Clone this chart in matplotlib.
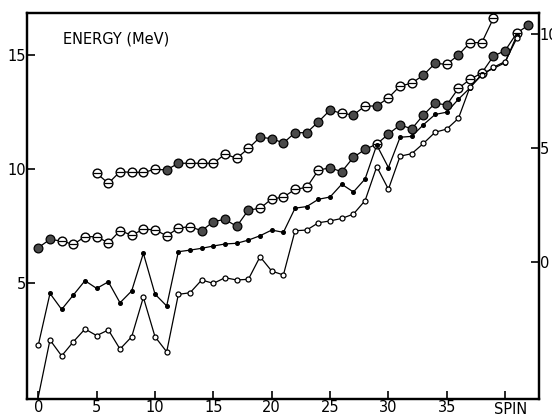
import numpy as np
import matplotlib
matplotlib.use("Agg")
import matplotlib.pyplot as plt

# band 1 (top), spins 5..39
spin_a = list(range(5, 40))
e_a = [9.80, 9.36, 9.87, 9.84, 9.84, 9.97, 9.95, 10.24, 10.24, 10.24, 10.24, 10.64, 10.46, 10.89,
       11.38, 11.32, 11.13, 11.58, 11.58, 12.06, 12.57, 12.43, 12.36, 12.75, 12.75, 13.11, 13.63,
       13.75, 14.11, 14.62, 14.58, 14.99, 15.53, 15.53, 16.6]
filled_a = [11, 12, 19, 20, 21, 22, 23, 24, 25, 27, 29, 33, 34, 36]

# band 2, spins 0..42
spin_b = list(range(0, 43))
e_b = [6.54, 6.90, 6.83, 6.68, 7.02, 7.02, 6.75, 7.28, 7.09, 7.34, 7.33, 7.05, 7.40, 7.46, 7.28,
       7.68, 7.78, 7.47, 8.19, 8.26, 8.68, 8.75, 9.10, 9.18, 9.94, 10.04, 9.87, 10.50, 10.85, 11.08,
       11.52, 11.92, 11.75, 12.36, 12.87, 12.80, 13.53, 13.92, 14.20, 14.94, 15.18, 15.95, 16.30]
filled_b = [0, 1, 14, 15, 16, 17, 18, 25, 26, 27, 28, 30, 31, 32, 33, 34, 35, 39, 40, 42]

# small dots, spins 0..41
spin_c = list(range(0, 42))
e_c = [2.27, 4.53, 3.83, 4.46, 5.09, 4.75, 5.04, 4.12, 4.64, 6.29, 4.50, 3.98, 6.36, 6.43, 6.51,
       6.61, 6.70, 6.73, 6.87, 7.06, 7.31, 7.21, 8.27, 8.34, 8.66, 8.76, 9.32, 8.98, 9.55, 11.04,
       10.05, 11.38, 11.42, 11.93, 12.38, 12.48, 13.05, 13.55, 14.15, 14.40, 14.65, 15.85]

# small open circles, spins 0..41
spin_d = list(range(0, 42))
e_d = [0.0, 2.49, 1.79, 2.41, 2.97, 2.68, 2.93, 2.09, 2.63, 4.36, 2.63, 1.97, 4.49, 4.56, 5.12,
       4.97, 5.22, 5.12, 5.15, 6.14, 5.51, 5.34, 7.28, 7.31, 7.63, 7.71, 7.82, 8.01, 8.60, 10.09,
       9.10, 10.55, 10.66, 11.11, 11.60, 11.74, 12.21, 13.60, 14.10, 14.45, 14.70, 15.72]

x_ticks = [0, 5, 10, 15, 20, 25, 30, 35, 40]
x_labels = ["0", "5", "10", "15", "20", "25", "30", "35", ""]
y_ticks = [5, 10, 15]
y2_ticks = [0, 5, 10]
y2_offset = 5.9

plt.rcParams['font.family'] = ['DejaVu Sans']
fig = plt.figure(figsize=(5.52, 4.16), dpi=100)
ax = fig.add_axes([27/552, 1-399/416, (538.5-27)/552, (399-13)/416])


def big_band(spins, energies, filled):
    ax.plot(spins, energies, color="black", lw=0.9, zorder=2)
    for s, e in zip(spins, energies):
        if s in filled:
            ax.plot(s, e, "o", ms=6.3, mfc="#4a4a4a", mec="black", mew=0.9, zorder=3)
        else:
            ax.plot(s, e, "o", ms=6.3, mfc="white", mec="black", mew=1.0, zorder=3)
            ax.plot(s, e, "_", ms=5.5, mec="black", mew=0.9, zorder=4)


big_band(spin_a, e_a, filled_a)
big_band(spin_b, e_b, filled_b)

ax.plot(spin_c, e_c, color="black", lw=0.9, zorder=2)
ax.plot(spin_c[1:], e_c[1:], "o", ms=2.6, color="black", lw=0, zorder=3)
ax.plot(spin_c[:1], e_c[:1], "o", ms=3.6, mfc="white", mec="black", mew=0.9, zorder=3)

ax.plot(spin_d, e_d, color="black", lw=0.9, zorder=2)
ax.plot(spin_d[1:], e_d[1:], "o", ms=3.6, mfc="white", mec="black", mew=0.9, lw=0, zorder=3)

ax.set_xlim(-0.97, 42.86)
ax.set_ylim(-0.10, 16.83)
ax.set_xticks(x_ticks)
ax.set_xticklabels(x_labels)
ax.set_yticks(y_ticks)
ax.tick_params(direction="in", length=6, width=1.2, labelsize=10.5)
ax.tick_params(axis="x", pad=1)
ax.tick_params(axis="y", pad=1)
for sp in ax.spines.values():
    sp.set_linewidth(1.6)

ax2 = ax.twinx()
ax2.set_ylim(-0.10 - y2_offset, 16.83 - y2_offset)
ax2.set_yticks(y2_ticks)
ax2.tick_params(direction="in", length=6, width=1.2, labelsize=10.5, pad=1)
for sp in ax2.spines.values():
    sp.set_linewidth(1.6)

ax.text(2.1, 15.7, "ENERGY (MeV)", fontsize=10.5, ha="left", va="center")
ax.text(40.5, -0.55, "SPIN", fontsize=10.5, ha="center", va="center", clip_on=False)

fig.savefig("out.png", dpi=100)
